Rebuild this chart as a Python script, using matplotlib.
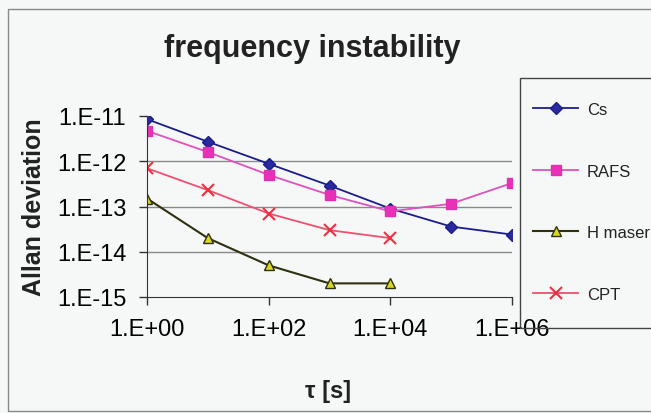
import numpy as np
import matplotlib
matplotlib.use("Agg")
import matplotlib.pyplot as plt
from matplotlib.patches import Rectangle

plt.rcParams['font.family'] = ['Liberation Sans', 'DejaVu Sans']

# averaging time tau [s]
tau = [1e0, 1e1, 1e2, 1e3, 1e4, 1e5, 1e6]

# Allan deviation
cs = [8.5e-12, 2.7e-12, 8.8e-13, 2.9e-13, 9.0e-14, 3.6e-14, 2.4e-14]
rafs = [4.7e-12, 1.6e-12, 5.0e-13, 1.8e-13, 7.8e-14, 1.15e-13, 3.3e-13]
tau_short = [1e0, 1e1, 1e2, 1e3, 1e4]
hmaser = [1.5e-13, 2.0e-14, 5.0e-15, 2.0e-15, 2.0e-15]
cpt = [7.0e-13, 2.3e-13, 7.0e-14, 3.0e-14, 2.0e-14]

xticks = [1e0, 1e2, 1e4, 1e6]
xticklabels = ['1.E+00', '1.E+02', '1.E+04', '1.E+06']
yticks = [1e-15, 1e-14, 1e-13, 1e-12, 1e-11]
yticklabels = ['1.E-15', '1.E-14', '1.E-13', '1.E-12', '1.E-11']

W, H = 651, 414
bg = '#f6f8f7'
fig = plt.figure(figsize=(W / 100, H / 100), dpi=100, facecolor=bg)
ax = fig.add_axes([147 / W, 1 - 298 / H, (512 - 147) / W, (298 - 117) / H])
ax.set_facecolor(bg)

ax.plot(tau, cs, color='#1c1c8c', lw=1.3, marker='D', ms=6,
        mfc='#2a2aa0', mec='#1c1c8c', label='Cs')
ax.plot(tau, rafs, color='#e050c0', lw=1.3, marker='s', ms=7,
        mfc='#e830b8', mec='#e030b0', label='RAFS')
ax.plot(tau_short, hmaser, color='#2e3010', lw=1.5, marker='^', ms=7,
        mfc='#d8d820', mec='#2e3010', label='H maser')
ax.plot(tau_short, cpt, color='#f05070', lw=1.3, marker='x', ms=8,
        mew=1.5, mec='#f03040', label='CPT')

ax.set_xscale('log')
ax.set_yscale('log')
ax.set_xlim(1e0, 1e6)
ax.set_ylim(1e-15, 1e-11)
ax.set_xticks(xticks)
ax.set_xticklabels(xticklabels)
ax.set_yticks(yticks)
ax.set_yticklabels(yticklabels)
ax.minorticks_off()
ax.tick_params(labelsize=17, length=6, width=1, pad=9, color='#333333')

for g in [1e-14, 1e-13, 1e-12]:
    ax.axhline(g, color='#8a8a8a', lw=1, zorder=0)

for s in ['top', 'right']:
    ax.spines[s].set_visible(False)
for s in ['left', 'bottom']:
    ax.spines[s].set_color('#333333')

fig.text(312 / W, 1 - 57 / H, 'frequency instability', fontsize=22,
         fontweight='bold', ha='center', va='baseline', color='#222222')
fig.text(34 / W, 1 - 207 / H, 'Allan deviation', fontsize=18,
         fontweight='bold', rotation=90, ha='center', va='center',
         color='#222222')
fig.text(328 / W, 1 - 398 / H, 'τ [s]', fontsize=17, fontweight='bold',
         ha='center', va='baseline', color='#222222')

# legend box and entries
fig.patches.append(Rectangle((520 / W, 1 - 329 / H), 200 / W, 250 / H,
                             transform=fig.transFigure, fill=False,
                             edgecolor='#444444', lw=1))
leg = fig.legend(loc='center left', bbox_to_anchor=(525 / W, 1 - 203 / H),
                 frameon=False, fontsize=12, borderpad=0, handlelength=2.7,
                 handletextpad=0.5, labelspacing=2.8)
for t in leg.get_texts():
    t.set_color('#222222')

# outer chart frame
fig.patches.append(Rectangle((8 / W, 1 - 412 / H), 700 / W, 402 / H,
                             transform=fig.transFigure, fill=False,
                             edgecolor='#888888', lw=1))

fig.savefig('out.png', dpi=100, facecolor=bg)
